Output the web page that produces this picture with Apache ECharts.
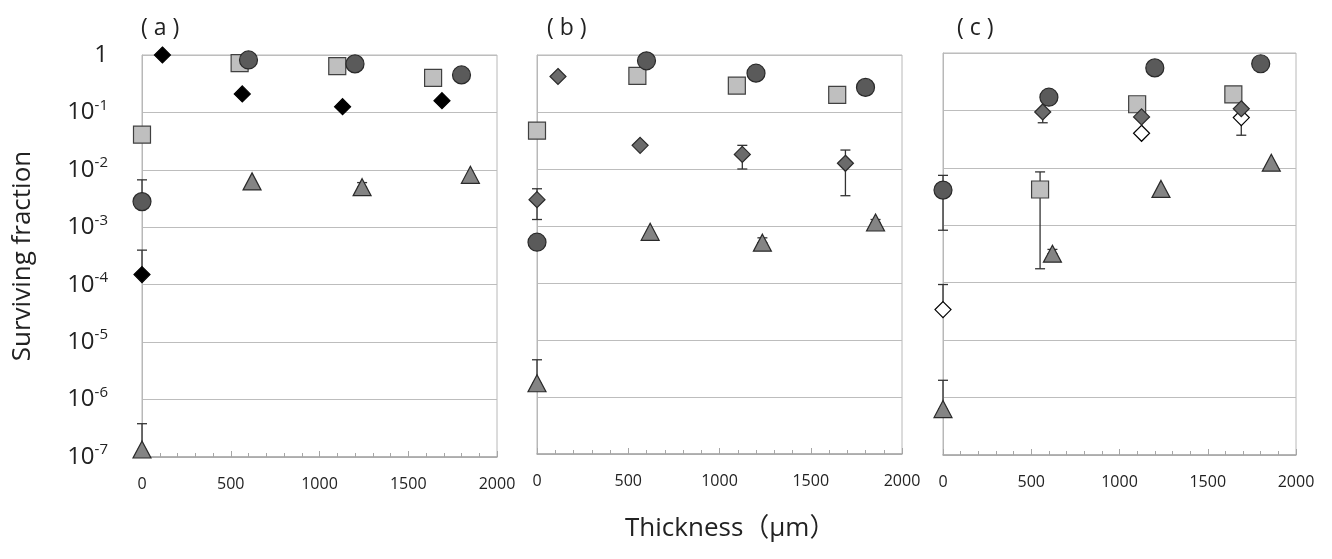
<!DOCTYPE html>
<html>
<head>
<meta charset="utf-8">
<script src="https://cdn.jsdelivr.net/npm/echarts@6/dist/echarts.min.js"></script>
<style>
    html, body {margin: 0; padding: 0; background: #fff;}
    #chart {width: 1332px; height: 559px;}
</style>
</head>
<body>
<div id="chart"></div>
<script>
// x轴刻度
var xTicks = [0, 500, 1000, 1500, 2000];
var panelNames = ['( a )', '( b )', '( c )'];

// (a) 数据 [thickness, fraction]
var aCircle = [[0, 2.8e-3], [600, 0.82], [1200, 0.70], [1800, 0.45]];
var aSquare = [[0, 0.041], [550, 0.72], [1100, 0.64], [1640, 0.40]];
var aDiamond = [[0, 1.5e-4], [115, 1.0], [565, 0.21], [1130, 0.126], [1690, 0.16]];
var aTriangle = [[0, 1.35e-7], [620, 6.3e-3], [1240, 5.0e-3], [1850, 8.2e-3]];
// 误差 [thickness, low, high]
var aErr = [[0, 2.8e-3, 6.7e-3], [0, 1.5e-4, 4.0e-4], [0, 1.35e-7, 3.8e-7],
    [1130, 0.112, 0.142], [1240, 5.0e-3, 6.0e-3]];

// (b)
var bCircle = [[0, 5.2e-4], [600, 0.79], [1200, 0.48], [1800, 0.27]];
var bSquare = [[0, 0.047], [550, 0.43], [1095, 0.29], [1645, 0.20]];
var bDiamond = [[0, 2.9e-3], [115, 0.42], [565, 0.026], [1125, 0.018], [1690, 0.0126]];
var bTriangle = [[0, 1.74e-6], [620, 7.9e-4], [1235, 5.1e-4], [1855, 1.15e-3]];
var bErr = [[0, 1.3e-3, 4.5e-3], [1125, 0.010, 0.026], [1690, 3.4e-3, 0.0215],
    [0, 1.74e-6, 4.5e-6], [1235, 5.1e-4, 6.2e-4], [1855, 1.15e-3, 1.3e-3]];

// (c)
var cCircle = [[0, 4.1e-3], [600, 0.17], [1200, 0.55], [1800, 0.65]];
var cSquare = [[550, 4.2e-3], [1100, 0.128], [1645, 0.19]];
var cDiamond = [[565, 0.094], [1125, 0.077], [1690, 0.107]];
var cOpenDiamond = [[0, 3.4e-5], [1125, 0.040], [1690, 0.075]];
var cTriangle = [[0, 6.3e-7], [620, 3.2e-4], [1235, 4.3e-3], [1860, 0.0123]];
var cErr = [[0, 8.2e-4, 7.4e-3], [550, 1.75e-4, 8.5e-3], [565, 0.061, 0.094],
    [0, 3.4e-5, 9.3e-5], [0, 6.3e-7, 2.0e-6], [1100, 0.128, 0.145],
    [1125, 0.040, 0.070], [1690, 0.037, 0.075], [620, 3.2e-4, 3.8e-4]];

var FONT = '"Open Sans", "Noto Sans CJK JP", sans-serif';

// 误差线
function errorSeries(data, idx) {
    return {
        type: 'custom',
        xAxisIndex: idx,
        yAxisIndex: idx,
        z: 1,
        silent: true,
        data: data,
        renderItem: function (params, api) {
            var x = api.value(0);
            var lo = api.coord([x, api.value(1)]);
            var hi = api.coord([x, api.value(2)]);
            var cap = 5;
            var style = {stroke: '#333', lineWidth: 1.3, fill: null};
            return {
                type: 'group',
                children: [
                    {type: 'line', shape: {x1: lo[0], y1: lo[1], x2: hi[0], y2: hi[1]}, style: style},
                    {type: 'line', shape: {x1: hi[0] - cap, y1: hi[1], x2: hi[0] + cap, y2: hi[1]}, style: style},
                    {type: 'line', shape: {x1: lo[0] - cap, y1: lo[1], x2: lo[0] + cap, y2: lo[1]}, style: style}
                ]
            };
        }
    };
}

function markSeries(data, idx, symbol, size, fill, border) {
    return {
        type: 'scatter',
        xAxisIndex: idx,
        yAxisIndex: idx,
        z: 3,
        symbol: symbol,
        symbolSize: size,
        data: data,
        itemStyle: {color: fill, borderColor: border, borderWidth: 1.2, opacity: 1}
    };
}

function yLabel(value) {
    var e = Math.round(Math.log10(value));
    if (e === 0) {
        return '{b|1}';
    }
    return '{b|10}{s|' + e + '}';
}

var grids = [
    {left: 142, top: 55, width: 355, height: 402},
    {left: 537, top: 55, width: 365, height: 399},
    {left: 943, top: 53, width: 353, height: 402}
];

var xAxes = [], yAxes = [], titles = [];
for (var i = 0; i < 3; i++) {
    grids[i].show = true;
    grids[i].borderColor = '#b8b8b8';
    grids[i].borderWidth = 1;
    xAxes.push({
        type: 'value',
        gridIndex: i,
        min: xTicks[0],
        max: xTicks[xTicks.length - 1],
        interval: 500,
        axisLine: {show: true, lineStyle: {color: '#a6a6a6', width: 1.5}},
        axisTick: {show: true, inside: true, length: 6, lineStyle: {color: '#a6a6a6'}},
        minorTick: {show: true, splitNumber: 5, length: 4, lineStyle: {color: '#a6a6a6'}},
        splitLine: {show: false},
        axisLabel: {
            color: '#222', fontSize: 16, fontFamily: FONT, margin: 19,
            formatter: function (v) { return String(v); }
        }
    });
    yAxes.push({
        type: 'log',
        gridIndex: i,
        min: 1e-7,
        max: 1,
        logBase: 10,
        axisLine: {show: true, lineStyle: {color: '#b8b8b8', width: 1}},
        axisTick: {show: false},
        splitLine: {show: true, lineStyle: {color: '#bdbdbd', width: 1.2}},
        axisLabel: {
            show: i === 0,
            margin: 34,
            formatter: yLabel,
            rich: {
                b: {fontSize: 24, color: '#222', fontFamily: FONT},
                s: {fontSize: 15, color: '#222', fontFamily: FONT, verticalAlign: 'top', padding: [0, 0, 14, 0]}
            }
        },
        name: i === 0 ? 'Surviving fraction' : '',
        nameLocation: 'middle',
        nameRotate: 90,
        nameGap: 106,
        nameTextStyle: {fontSize: 26, color: '#222', fontFamily: FONT}
    });
    titles.push({
        text: panelNames[i],
        left: [136, 542, 952][i],
        top: 12,
        textStyle: {fontSize: 23, fontWeight: 'normal', color: '#222', fontFamily: FONT}
    });
}
titles.push({
    text: 'Thickness（μm）',
    left: 620,
    top: 511,
    textStyle: {fontSize: 26, fontWeight: 'normal', color: '#222', fontFamily: FONT}
});

var CIRCLE = '#5a5a5a', SQUARE = '#bfbfbf', TRI = '#848484', DIA = '#6b6b6b', EDGE = '#2a2a2a';

var series = [
    errorSeries(aErr, 0),
    markSeries(aSquare, 0, 'rect', 17, SQUARE, '#404040'),
    markSeries(aCircle, 0, 'circle', 18, CIRCLE, EDGE),
    markSeries(aDiamond, 0, 'diamond', 16, '#000', '#000'),
    markSeries(aTriangle, 0, 'triangle', [18, 17], TRI, EDGE),

    errorSeries(bErr, 1),
    markSeries(bSquare, 1, 'rect', 17, SQUARE, '#404040'),
    markSeries(bCircle, 1, 'circle', 18, CIRCLE, EDGE),
    markSeries(bDiamond, 1, 'diamond', 16, DIA, EDGE),
    markSeries(bTriangle, 1, 'triangle', [18, 17], TRI, EDGE),

    errorSeries(cErr, 2),
    markSeries(cSquare, 2, 'rect', 17, SQUARE, '#404040'),
    markSeries(cCircle, 2, 'circle', 18, CIRCLE, EDGE),
    markSeries(cOpenDiamond, 2, 'diamond', 16, '#fff', '#000'),
    markSeries(cDiamond, 2, 'diamond', 16, DIA, EDGE),
    markSeries(cTriangle, 2, 'triangle', [18, 17], TRI, EDGE)
];

var option = {
    animation: false,
    backgroundColor: '#fff',
    title: titles,
    grid: grids,
    xAxis: xAxes,
    yAxis: yAxes,
    series: series
};

var chart = echarts.init(document.getElementById('chart'));
chart.setOption(option);
</script>
</body>
</html>
